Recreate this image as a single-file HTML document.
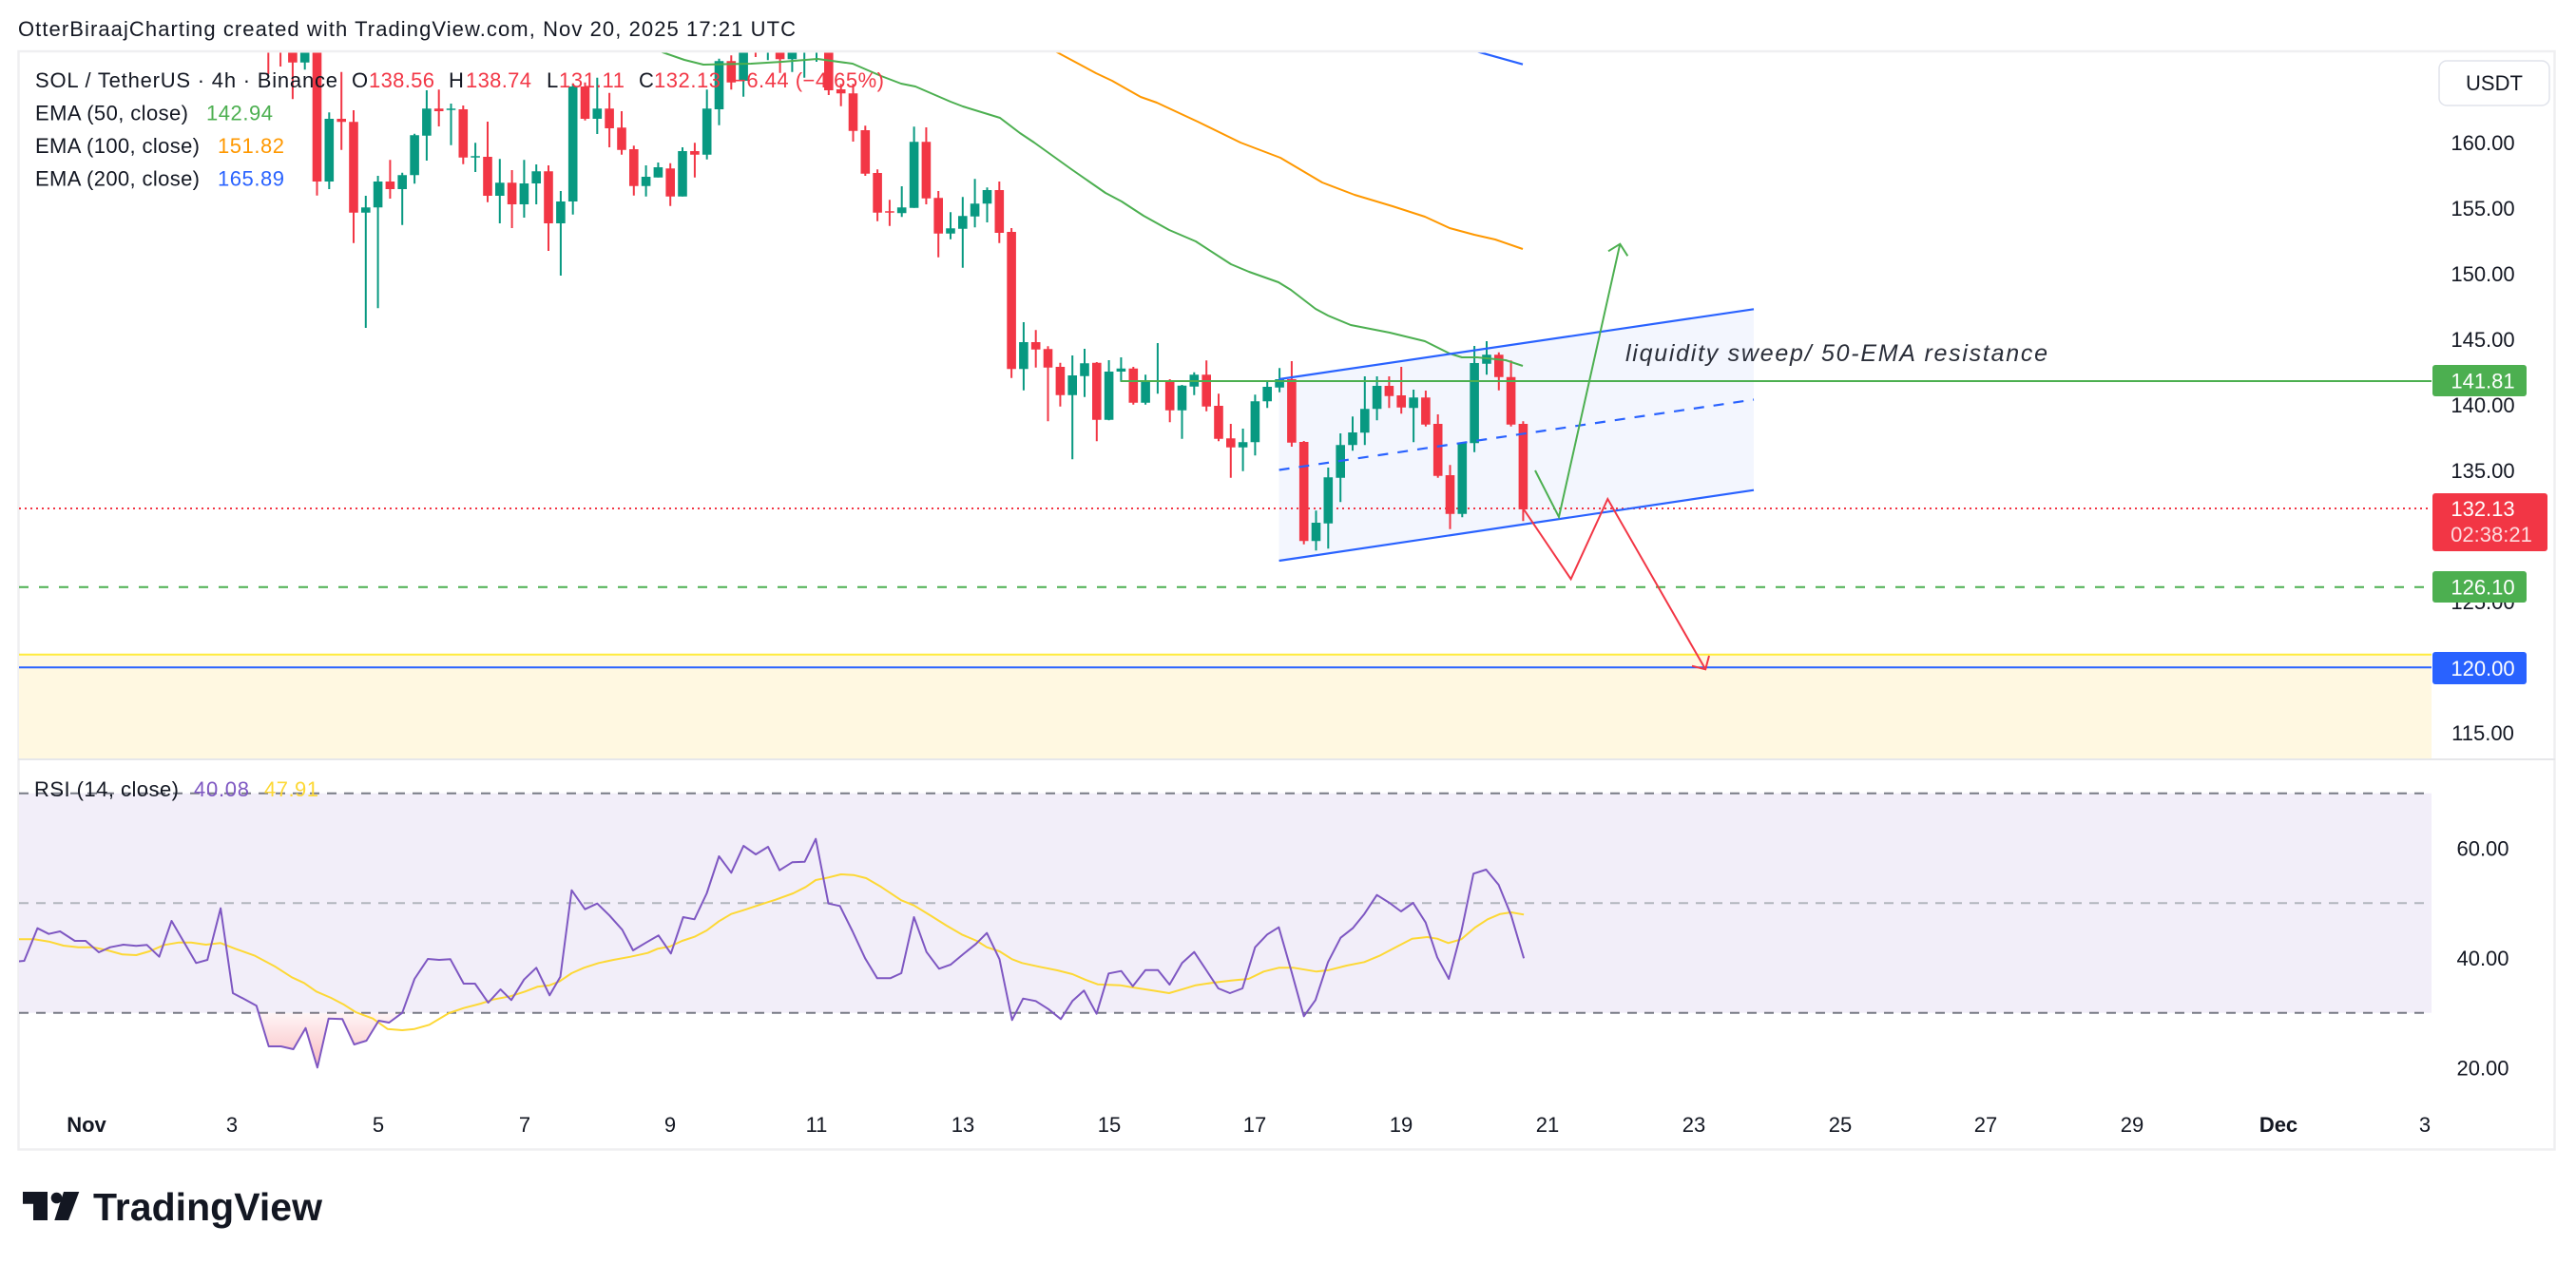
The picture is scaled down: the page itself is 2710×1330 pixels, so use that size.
<!DOCTYPE html>
<html><head><meta charset="utf-8"><style>
html,body{margin:0;padding:0;background:#fff;}
body{width:2710px;height:1330px;overflow:hidden;}
svg{display:block;font-family:"Liberation Sans",sans-serif;}
</style></head><body>
<svg width="2710" height="1330" viewBox="0 0 2710 1330" xmlns="http://www.w3.org/2000/svg">
<defs>
<clipPath id="mp"><rect x="20" y="55.5" width="2538" height="742.5"/></clipPath>
<clipPath id="rp"><rect x="20" y="800" width="2538" height="365"/></clipPath>
<clipPath id="os"><rect x="20" y="1065.7" width="2538" height="100"/></clipPath>
<linearGradient id="pg" gradientUnits="userSpaceOnUse" x1="0" y1="1066" x2="0" y2="1125"><stop offset="0" stop-color="#F23645" stop-opacity="0.05"/><stop offset="1" stop-color="#F23645" stop-opacity="0.35"/></linearGradient>
</defs>
<rect width="2710" height="1330" fill="#fff"/>
<text x="19" y="38" font-size="22" fill="#131722" textLength="818">OtterBiraajCharting created with TradingView.com, Nov 20, 2025 17:21 UTC</text>
<rect x="19.5" y="54" width="2668" height="1155.5" fill="none" stroke="#EFEFF1" stroke-width="2.5"/>
<line x1="19" y1="799" x2="2688" y2="799" stroke="#E6E7EA" stroke-width="2"/>

<g clip-path="url(#mp)">
<rect x="20" y="689" width="2538" height="110" fill="#FFF8E1"/>
<line x1="20" y1="688.7" x2="2558" y2="688.7" stroke="#FFEB3B" stroke-width="2"/>
<line x1="20" y1="702.3" x2="2558" y2="702.3" stroke="#2962FF" stroke-width="2"/>
<polygon points="1345.6,399 1845,325.3 1845,515.7 1345.6,590" fill="#F3F6FE"/>
<line x1="20" y1="535" x2="2558" y2="535" stroke="#F23645" stroke-width="2" stroke-dasharray="2 4"/>
<line x1="20" y1="617.8" x2="2558" y2="617.8" stroke="#4CAF50" stroke-width="2" stroke-dasharray="10 11"/>

<path fill="none" stroke="#089981" stroke-width="2" d="M320.7 30V73.3M346.3 118.3V199M384.8 206V345M397.6 185V324.3M423.2 181.7V236.7M436.1 140.7V193.3M448.9 95V169M474.5 109V152.7M500.1 150.3V181M525.8 167.3V235M551.4 168.3V229M564.2 173V215M589.9 201V290M602.7 88.3V225.7M628.3 81.7V141M679.6 174V206.7M692.4 171V186.7M718 155V206.7M743.7 94.3V167.7M756.5 61.7V131.7M782.1 30V101.7M807.8 30V63.3M833.4 30V75.7M846.2 30V81.7M859 30V65M948.7 196V228.3M961.6 133.3V218.7M1000 223.3V251.7M1012.8 207.3V281.7M1025.6 188.3V239.3M1038.5 197.3V234M1076.9 339V410.7M1128.2 374V483.3M1141 367V417.7M1166.6 379V442.3M1179.4 376V401.7M1205.1 394.3V425.7M1217.9 361V414.3M1243.5 405V461.7M1256.3 391.7V415.7M1307.6 451V495.7M1320.4 415.3V479.3M1333.2 400.7V429.3M1346.1 387.3V412.7M1384.5 537.3V579.3M1397.3 492V577.3M1410.2 456V528.3M1423 438.3V474.3M1435.8 396V468.3M1448.6 396V442.3M1487.1 410V465.3M1538.3 465.7V544.3M1551.1 364V475.7M1564 359V394.3"/>
<path fill="#089981" d="M315.9 40h9.6V65.7h-9.6ZM341.5 125h9.6V191h-9.6ZM380 218.3h9.6V223.7h-9.6ZM392.8 191h9.6V218.3h-9.6ZM418.4 184.3h9.6V199h-9.6ZM431.3 142.3h9.6V184.3h-9.6ZM444.1 114.3h9.6V142.7h-9.6ZM469.7 114.3h9.6V115.8h-9.6ZM495.3 164.3h9.6V165.8h-9.6ZM521 192.3h9.6V206h-9.6ZM546.6 193h9.6V215h-9.6ZM559.4 180.3h9.6V193h-9.6ZM585.1 212h9.6V235h-9.6ZM597.9 91h9.6V212h-9.6ZM623.5 114.3h9.6V125h-9.6ZM674.8 186h9.6V195.7h-9.6ZM687.6 176h9.6V186.7h-9.6ZM713.2 159h9.6V206.7h-9.6ZM738.9 114.3h9.6V162.7h-9.6ZM751.7 64.3h9.6V115h-9.6ZM777.3 40h9.6V85h-9.6ZM803 40h9.6V45h-9.6ZM828.6 40h9.6V62.3h-9.6ZM841.4 40h9.6V50h-9.6ZM854.2 40h9.6V45h-9.6ZM943.9 218.3h9.6V224.3h-9.6ZM956.8 149.3h9.6V218.7h-9.6ZM995.2 240.3h9.6V245.7h-9.6ZM1008 227.3h9.6V240.7h-9.6ZM1020.8 214.3h9.6V227.7h-9.6ZM1033.7 200h9.6V214.3h-9.6ZM1072.1 360h9.6V388.3h-9.6ZM1123.4 395h9.6V415.7h-9.6ZM1136.2 382.3h9.6V395.7h-9.6ZM1161.8 391h9.6V441.7h-9.6ZM1174.6 387.7h9.6V391h-9.6ZM1200.3 401.7h9.6V423.7h-9.6ZM1213.1 400h9.6V401.5h-9.6ZM1238.7 405.7h9.6V431.7h-9.6ZM1251.5 394.3h9.6V406.7h-9.6ZM1302.8 465.3h9.6V470.7h-9.6ZM1315.6 422.3h9.6V465.3h-9.6ZM1328.4 407h9.6V422.3h-9.6ZM1341.3 399h9.6V407.7h-9.6ZM1379.7 550h9.6V569.3h-9.6ZM1392.5 502.3h9.6V550.7h-9.6ZM1405.4 468.3h9.6V502.7h-9.6ZM1418.2 455h9.6V468.3h-9.6ZM1431 430.3h9.6V455.3h-9.6ZM1443.8 406h9.6V430.3h-9.6ZM1482.3 418.3h9.6V429.3h-9.6ZM1533.5 465.7h9.6V540.7h-9.6ZM1546.3 382h9.6V466.3h-9.6ZM1559.2 373.3h9.6V382.7h-9.6Z"/>
<path fill="none" stroke="#F23645" stroke-width="2" d="M282.3 30V78M295.1 30V70M307.9 30V104.3M333.5 30V205.7M359.2 75.7V157.7M372 116V255.7M410.4 168.3V209M461.7 94.3V133M487.3 111V172.7M513 128V212.7M538.6 179V240M577 174V264M615.5 86.7V126.7M641.1 97.7V155M654 117V162.7M666.8 153.3V205.7M705.2 171.7V216.7M730.9 150.3V186.7M769.3 58.3V94.3M794.9 30V60M820.6 30V76.7M871.8 30V100M884.7 88.3V111.7M897.5 88.3V149M910.3 132.3V185M923.1 178.3V232.7M935.9 210.3V237.7M974.4 134V215M987.2 201V270.7M1051.3 191V255.7M1064.1 240V397.7M1089.7 347.3V386.7M1102.5 364.3V443.3M1115.4 381.7V427.7M1153.8 381V464.3M1192.3 386V425.7M1230.7 399V444.3M1269.2 379.3V432.7M1282 414.3V464.3M1294.8 446V502.7M1358.9 380V470M1371.7 464V572.7M1461.4 396V429.3M1474.2 386V435.3M1499.9 411V448.7M1512.7 436V502.7M1525.5 489.3V556.7M1576.8 370.7V410.7M1589.6 379.3V448.7M1602.4 443.3V548.3"/>
<path fill="#F23645" d="M277.5 40h9.6V50h-9.6ZM290.3 40h9.6V50h-9.6ZM303.1 40h9.6V65.7h-9.6ZM328.7 45h9.6V191h-9.6ZM354.4 125h9.6V128.3h-9.6ZM367.2 128.3h9.6V223.7h-9.6ZM405.6 191h9.6V199h-9.6ZM456.9 114.3h9.6V117h-9.6ZM482.5 115h9.6V165.7h-9.6ZM508.2 165h9.6V206h-9.6ZM533.8 192.3h9.6V215h-9.6ZM572.2 180.3h9.6V235h-9.6ZM610.7 91h9.6V125h-9.6ZM636.3 114.3h9.6V135h-9.6ZM649.2 134.3h9.6V157.7h-9.6ZM662 157h9.6V195.7h-9.6ZM700.4 177.3h9.6V206.7h-9.6ZM726.1 159h9.6V162.7h-9.6ZM764.5 64.3h9.6V86.7h-9.6ZM790.1 40h9.6V45h-9.6ZM815.8 40h9.6V62.3h-9.6ZM867 40h9.6V95h-9.6ZM879.9 94h9.6V98.3h-9.6ZM892.7 98.3h9.6V137.7h-9.6ZM905.5 137h9.6V182.7h-9.6ZM918.3 182h9.6V223.7h-9.6ZM931.1 222.3h9.6V223.8h-9.6ZM969.6 149.3h9.6V208.7h-9.6ZM982.4 208.3h9.6V245.7h-9.6ZM1046.5 200h9.6V245h-9.6ZM1059.3 244h9.6V388.3h-9.6ZM1084.9 360h9.6V367.7h-9.6ZM1097.7 367.3h9.6V386.7h-9.6ZM1110.6 386h9.6V415.7h-9.6ZM1149 381.7h9.6V441.7h-9.6ZM1187.5 387.7h9.6V423.7h-9.6ZM1225.9 400h9.6V431.7h-9.6ZM1264.4 394.3h9.6V427.7h-9.6ZM1277.2 427h9.6V461.7h-9.6ZM1290 461.3h9.6V470.7h-9.6ZM1354.1 399h9.6V465.7h-9.6ZM1366.9 465h9.6V569.3h-9.6ZM1456.6 406h9.6V416.7h-9.6ZM1469.4 416h9.6V428.7h-9.6ZM1495.1 418.3h9.6V446.7h-9.6ZM1507.9 446h9.6V500.7h-9.6ZM1520.7 500h9.6V540.7h-9.6ZM1572 373.3h9.6V396.7h-9.6ZM1584.8 396.7h9.6V446.7h-9.6ZM1597.6 446h9.6V536h-9.6Z"/>

<polyline fill="none" stroke="#4CAF50" stroke-width="2" stroke-linejoin="round" points="650,40 690,52 697,55 720,63 740,68 790,67 823,65 860,62 897,67 927,80 948,88 963,91 1000,107 1013,112 1052,124 1073,140 1088,150 1127,178 1163,203 1180,212 1203,227 1230,242 1258,254 1295,278 1314,286 1345,297 1358,305 1384,325 1397,332 1421,342 1462,350 1499,359 1525,372 1538,376 1554,376 1584,379 1602,385"/>
<polyline fill="none" stroke="#FF9800" stroke-width="2" stroke-linejoin="round" points="1090,45 1112,55 1153,77 1170,85 1200,102 1217,108 1260,128 1305,150 1347,166 1391,192 1425,205 1465,217 1499,228 1525,240 1551,247 1573,252 1602,262"/>
<polyline fill="none" stroke="#2962FF" stroke-width="2.2" points="1520,44 1553,54 1602,67.7"/>

<line x1="1345.6" y1="399" x2="1845" y2="325.3" stroke="#2962FF" stroke-width="2.2"/>
<line x1="1345.6" y1="590" x2="1845" y2="515.7" stroke="#2962FF" stroke-width="2.2"/>
<line x1="1345.6" y1="494.5" x2="1845" y2="420.5" stroke="#2962FF" stroke-width="2.2" stroke-dasharray="11 10"/>
<line x1="1179" y1="401" x2="2558" y2="401" stroke="#4CAF50" stroke-width="2"/>
<polyline fill="none" stroke="#4CAF50" stroke-width="2" points="1615,495 1640,544 1704.3,256.7"/>
<polyline fill="none" stroke="#4CAF50" stroke-width="2" points="1692,264.3 1704.3,256.7 1712.3,269.3"/>
<polyline fill="none" stroke="#F23645" stroke-width="2" points="1602.4,535 1652.6,609.3 1691.3,525 1794.2,704.3"/>
<polyline fill="none" stroke="#F23645" stroke-width="2" points="1780,700.7 1794.2,704.3 1798,690"/>
<text x="1710" y="380" font-size="25" font-style="italic" fill="#2A2E39" textLength="444">liquidity sweep/ 50-EMA resistance</text>
</g>

<g font-size="22">
<text x="37" y="92" fill="#131722" textLength="318">SOL / TetherUS · 4h · Binance</text>
<text x="370" y="92" fill="#131722">O</text><text x="388" y="92" fill="#F23645" textLength="69">138.56</text>
<text x="472" y="92" fill="#131722">H</text><text x="490" y="92" fill="#F23645" textLength="69">138.74</text>
<text x="575" y="92" fill="#131722">L</text><text x="588" y="92" fill="#F23645" textLength="69">131.11</text>
<text x="672" y="92" fill="#131722">C</text><text x="688" y="92" fill="#F23645" textLength="70">132.13</text>
<text x="772" y="92" fill="#F23645" textLength="158">−6.44 (−4.65%)</text>
<text x="37" y="126.5" fill="#131722" textLength="161">EMA (50, close)</text><text x="217" y="126.5" fill="#4CAF50" textLength="70">142.94</text>
<text x="37" y="161" fill="#131722" textLength="173">EMA (100, close)</text><text x="229" y="161" fill="#FF9800" textLength="70">151.82</text>
<text x="37" y="195.5" fill="#131722" textLength="173">EMA (200, close)</text><text x="229" y="195.5" fill="#2962FF" textLength="70">165.89</text>
</g>

<rect x="2566" y="64" width="116" height="47" rx="8" fill="#fff" stroke="#E0E3EB" stroke-width="1.5"/>
<text x="2624" y="95" font-size="22" fill="#131722" text-anchor="middle">USDT</text>
<g font-size="22" fill="#131722" text-anchor="middle">
<text x="2612" y="158">160.00</text>
<text x="2612" y="227">155.00</text>
<text x="2612" y="296">150.00</text>
<text x="2612" y="365">145.00</text>
<text x="2612" y="434">140.00</text>
<text x="2612" y="503">135.00</text>
<text x="2612" y="641">125.00</text>
<text x="2612" y="779">115.00</text>
</g>
<rect x="2559" y="384" width="99" height="33" rx="3" fill="#4CAF50"/>
<text x="2612" y="408.5" font-size="22" fill="#fff" text-anchor="middle">141.81</text>
<rect x="2559" y="519" width="121" height="61" rx="3" fill="#F23645"/>
<text x="2612" y="543" font-size="22" fill="#fff" text-anchor="middle">132.13</text>
<text x="2621" y="570" font-size="22" fill="#fff" fill-opacity="0.82" text-anchor="middle">02:38:21</text>
<rect x="2559" y="601" width="99" height="33" rx="3" fill="#4CAF50"/>
<text x="2612" y="625.5" font-size="22" fill="#fff" text-anchor="middle">126.10</text>
<rect x="2559" y="686" width="99" height="34" rx="3" fill="#2962FF"/>
<text x="2612" y="711" font-size="22" fill="#fff" text-anchor="middle">120.00</text>

<rect x="20" y="834.7" width="2538" height="231" fill="#F2EEF9"/>
<line x1="20" y1="834.7" x2="2558" y2="834.7" stroke="#787B86" stroke-width="2" stroke-dasharray="10 8"/>
<line x1="20" y1="950.2" x2="2558" y2="950.2" stroke="#B2B5BE" stroke-width="2" stroke-dasharray="10 8"/>
<line x1="20" y1="1065.7" x2="2558" y2="1065.7" stroke="#787B86" stroke-width="2" stroke-dasharray="10 8"/>
<g clip-path="url(#rp)">
<g clip-path="url(#os)">
<polygon fill="url(#pg)" points="232.1,1065.7 232.1,955.7 245,1045 257.9,1051.7 269.8,1058.3 282.7,1101 295.6,1101 308.6,1104 321.5,1081.7 333.9,1123.3 345.7,1071.7 360.2,1072.3 372.6,1099 385.5,1095 398.4,1074 409.3,1076 423.2,1065.7 436.1,1030 436.1,1065.7"/>
</g>
<polyline fill="none" stroke="#FDD835" stroke-width="2" stroke-linejoin="round" points="18,988.3 35.8,988.3 51.3,990.7 66.8,995 82.3,996.7 97.8,996.7 113.3,1000 128.8,1004.3 143.3,1005 157.2,1001 172.7,994.3 188.2,991.7 201.1,991.7 216.6,994 232.1,992.3 247.6,998.3 268.3,1005.7 288.9,1016.7 307,1028.3 319.9,1034.3 332.8,1043.3 348.3,1050 361.2,1056.7 374.2,1065 392.2,1071.7 407.7,1082.7 423.2,1084 436.1,1082.7 451.6,1078.3 472.3,1066 487.8,1060.7 505.9,1056 518.8,1051.7 536.9,1048.3 552.4,1043.3 565.3,1038.3 578.2,1036.7 588.5,1032.7 601.4,1024 614.3,1018.3 629.8,1013.3 645.3,1010 663.4,1006.7 681.5,1002.7 691.8,998.3 704.7,996 717.6,990 730.6,985.7 743.5,979 756.4,969.3 769.3,961.7 782.2,957.7 800.3,951.7 815.9,946.7 834.4,940 847.6,933.3 858.2,926 871.5,923.3 884.7,920 897.9,920.7 911.2,924 927.1,933.3 948.2,947.3 961.5,952.7 980,964 995.9,974 1011.8,983.3 1027.6,990 1038.2,996.7 1051.5,1001 1064.7,1009.3 1075.3,1013.3 1093.8,1017.3 1112.3,1021 1128.2,1025 1141.4,1030.7 1154.7,1035.7 1178.5,1036.7 1191.7,1039 1212.9,1042.3 1229.9,1045 1244.7,1040.7 1257.9,1036.7 1276.4,1034 1295,1031.7 1313.5,1030 1329.4,1022.3 1345.3,1018.3 1361.1,1018.3 1385,1022.3 1398.2,1020.7 1416.7,1016 1435.3,1012.3 1451.2,1005.7 1469.7,996 1485.6,987.7 1501.4,986 1512,987.7 1523.7,992.3 1537.4,988.3 1551.7,976 1565,967.3 1578.2,961.7 1589.8,960 1603.1,962.3"/>
<polyline fill="none" stroke="#7E57C2" stroke-width="2" stroke-linejoin="round" points="14,1012 25.5,1011 39.4,976.7 51.3,982.7 63.2,980 78.7,990 90.1,990 104,1002 115.9,996.7 129.8,994 143.3,995.3 154.6,994.3 167.5,1006.7 180.5,969 206.3,1013.3 218.2,1010 232.1,955.7 245,1045 257.9,1051.7 269.8,1058.3 282.7,1101 295.6,1101 308.6,1104 321.5,1081.7 333.9,1123.3 345.7,1071.7 360.2,1072.3 372.6,1099 385.5,1095 398.4,1074 409.3,1076 423.2,1065.7 436.1,1030 450.1,1009 462,1010 473.8,1009.3 487.8,1035 499.7,1035 513.6,1055 526.5,1041 537.9,1052.3 551.3,1030.7 564.2,1018.3 578.2,1047.3 589.5,1027.7 601.4,936.7 615.4,956.7 628.3,950.7 641.2,963.3 654.6,978.3 666,1000 679.9,991.7 692.8,984.3 705.8,1003.3 718.7,965 730.6,967.3 743.5,940 756.4,901 769.3,918.3 782.2,890 795.1,899 808,891 820.1,915.7 833.4,907.3 846.6,906.7 858.2,882.7 871.5,950.7 883.6,953.3 896.9,980 910.1,1008.3 922.8,1029.3 936.6,1029.3 948.2,1024 961.5,965 974.7,1001.7 987.9,1019.3 1000.1,1015 1013.3,1004 1026.6,993.3 1038.2,981.7 1051.5,1009.3 1064.7,1073.3 1076.3,1050.7 1089.6,1053.3 1102.8,1061.7 1116,1072.3 1128.2,1053.3 1140.4,1042.3 1153.6,1066.7 1166.3,1024.3 1179.6,1021.7 1191.7,1037.7 1205,1020.7 1218.2,1020.7 1230.4,1036 1243.6,1013.3 1256.3,1001.7 1268.5,1020 1281.7,1040 1293.9,1045 1307.1,1040 1320.4,996.7 1333.1,983.3 1345.3,975.7 1358.5,1021.7 1371.7,1069.3 1383.9,1052.3 1397.1,1012.3 1410.4,986.7 1423.1,976.7 1435.3,961.7 1448.5,941.7 1461.7,950 1473.9,959 1486.6,950 1499.8,970.7 1512,1007.3 1524.2,1030 1537.4,980 1550.1,919.3 1563.4,915 1576.6,931 1589.8,963.3 1603.1,1008.3"/>
</g>
<g font-size="22">
<text x="36" y="838" fill="#131722" textLength="152">RSI (14, close)</text>
<text x="204" y="838" fill="#7E57C2" textLength="58">40.08</text>
<text x="278" y="838" fill="#FDD835" textLength="57">47.91</text>
</g>
<g font-size="22" fill="#131722" text-anchor="middle">
<text x="2612" y="900.5">60.00</text>
<text x="2612" y="1016">40.00</text>
<text x="2612" y="1131.5">20.00</text>
</g>

<g font-size="22" fill="#131722" text-anchor="middle">
<text x="91" y="1191" font-weight="bold">Nov</text>
<text x="244" y="1191">3</text>
<text x="398" y="1191">5</text>
<text x="552" y="1191">7</text>
<text x="705" y="1191">9</text>
<text x="859" y="1191">11</text>
<text x="1013" y="1191">13</text>
<text x="1167" y="1191">15</text>
<text x="1320" y="1191">17</text>
<text x="1474" y="1191">19</text>
<text x="1628" y="1191">21</text>
<text x="1782" y="1191">23</text>
<text x="1936" y="1191">25</text>
<text x="2089" y="1191">27</text>
<text x="2243" y="1191">29</text>
<text x="2397" y="1191" font-weight="bold">Dec</text>
<text x="2551" y="1191">3</text>
</g>

<path fill="#131722" d="M24 1254H50V1284H35V1266.7H24Z"/>
<circle cx="59.5" cy="1260.5" r="5.8" fill="#131722"/>
<path fill="#131722" d="M67 1254H83.3L72 1284H57.3Z"/>
<text x="98" y="1284" font-size="41" font-weight="bold" fill="#131722" textLength="241">TradingView</text>
</svg>
</body></html>
